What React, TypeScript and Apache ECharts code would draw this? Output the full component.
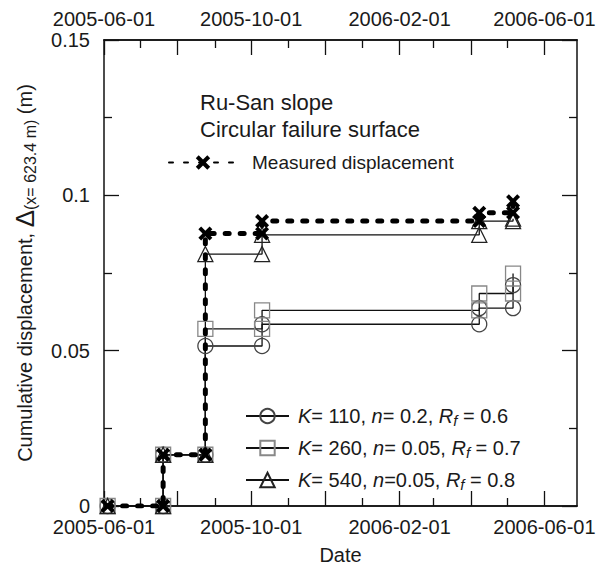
import React, { useEffect, useRef } from 'react';
import * as echarts from 'echarts';

// ---- data ----
const dates = ['2005-06-04', '2005-07-20', '2005-08-24', '2005-10-10', '2006-04-08', '2006-05-06'];
const measured = [0, 0.0165, 0.0877, 0.0917, 0.0944, 0.0981];
const k110 = [0, 0.0165, 0.0515, 0.0585, 0.0637, 0.0711];
const k260 = [0, 0.0165, 0.057, 0.063, 0.0684, 0.0748];
const k540 = [0, 0.0165, 0.0811, 0.0873, 0.0917, 0.0925];
const simNames = ['K= 110, n= 0.2, Rf = 0.6', 'K= 260, n= 0.05, Rf = 0.7', 'K= 540, n=0.05, Rf = 0.8'];
const measuredName = 'Measured displacement';
const xMin = '2005-06-01';
const xMax = '2006-06-28';
const xTickLabels = ['2005-06-01', '2005-10-01', '2006-02-01', '2006-06-01'];
const xMajorTicks = ['2005-06-01', '2005-08-01', '2005-10-01', '2005-12-01', '2006-02-01', '2006-04-01', '2006-06-01'];
const xMinorTicks = ['2005-07-01', '2005-09-01', '2005-11-01', '2006-01-01', '2006-03-01', '2006-05-01'];
const yMin = 0;
const yMax = 0.15;
const yStep = 0.05;
const annotation = ['Ru-San slope', 'Circular failure surface'];

const FONT = '"Liberation Sans", Arial, sans-serif';
const INK = '#1a1a1a';
const ts = (d: string) => Date.parse(d + 'T00:00:00Z');
const fmtDate = (v: number) => new Date(v).toISOString().slice(0, 10);

function steps(vals: number[]) {
  const pts: [number, number][] = [];
  dates.forEach((d, i) => {
    const t = ts(d);
    if (i > 0) pts.push([t, vals[i - 1]]);
    pts.push([t, vals[i]]);
  });
  return pts;
}

const richName = (name: string) =>
  name
    .replace(/^K=/, '{i|K}=')
    .replace(', n=', ', {i|n}=')
    .replace(', Rf', ', {i|R}{s|f}');

const richStyles = {
  i: { fontStyle: 'italic', fontSize: 20, fontFamily: FONT, color: INK },
  s: { fontStyle: 'italic', fontSize: 15, fontFamily: FONT, color: INK, padding: [9, 0, 0, 0] },
  p: { fontSize: 19, fontFamily: FONT, color: INK, padding: [0, 0, 0, 10] },
};

const CROSS = 'path://M0,2L2,0L5,3L8,0L10,2L7,5L10,8L8,10L5,7L2,10L0,8L3,5Z';

function xAxis(pos: 'top' | 'bottom', ticks: string[], len: number, labels: string[] | null, name?: string) {
  return {
    type: 'value',
    position: pos,
    min: ts(xMin),
    max: ts(xMax),
    name,
    nameLocation: 'middle',
    nameGap: 39,
    nameTextStyle: { fontSize: 20, fontFamily: FONT, color: INK },
    axisLine: { show: true, onZero: false, lineStyle: { color: '#111', width: 1.5 } },
    axisTick: { show: true, inside: true, length: len, customValues: ticks.map(ts), lineStyle: { color: '#111', width: 1.3 } },
    axisLabel: labels
      ? { show: true, customValues: labels.map(ts), formatter: fmtDate, fontSize: 20, fontFamily: FONT, color: INK, margin: 11 }
      : { show: false },
    splitLine: { show: false },
  };
}

function yAxis(pos: 'left' | 'right', labels: boolean) {
  return {
    type: 'value',
    position: pos,
    min: yMin,
    max: yMax,
    interval: yStep,
    name: labels ? 'Cumulative displacement, {d|Δ}{s|(x= 623.4 m)} (m)' : undefined,
    nameLocation: 'middle',
    nameRotate: 90,
    nameGap: 66,
    nameTextStyle: {
      fontSize: 20,
      fontFamily: FONT,
      color: INK,
      rich: {
        d: { fontSize: 26, fontFamily: FONT, color: INK },
        s: { fontSize: 16, fontFamily: FONT, color: INK, padding: [10, 0, 0, 0] },
      },
    },
    axisLine: { show: true, onZero: false, lineStyle: { color: '#111', width: 1.5 } },
    axisTick: { show: true, inside: true, length: 15, lineStyle: { color: '#111', width: 1.3 } },
    minorTick: { show: true, splitNumber: 2, length: 8, lineStyle: { color: '#111', width: 1.3 } },
    axisLabel: labels ? { show: true, fontSize: 20, fontFamily: FONT, color: INK, margin: 14 } : { show: false },
    splitLine: { show: false },
    minorSplitLine: { show: false },
  };
}

function simSeries(name: string, vals: number[], symbol: string, border: string) {
  return {
    name,
    type: 'line',
    xAxisIndex: 0,
    yAxisIndex: 0,
    data: steps(vals),
    symbol,
    symbolSize: 15,
    itemStyle: { color: 'transparent', borderColor: border, borderWidth: 1.3 },
    lineStyle: { color: '#111', width: 1.3 },
    z: 2,
  };
}

export default function App() {
  const ref = useRef<HTMLDivElement>(null);
  useEffect(() => {
    const chart = echarts.init(ref.current!, null, { renderer: 'svg' });
    chart.setOption({
      animation: false,
      backgroundColor: '#fff',
      grid: { left: 104, right: 37, top: 40, bottom: 58, containLabel: false },
      xAxis: [
        xAxis('bottom', xMajorTicks, 15, xTickLabels, 'Date'),
        xAxis('bottom', xMinorTicks, 8, null),
        xAxis('top', xMajorTicks, 15, xTickLabels),
        xAxis('top', xMinorTicks, 8, null),
      ],
      yAxis: [yAxis('left', true), yAxis('right', false)],
      legend: [
        {
          data: [measuredName],
          left: 163,
          top: 148,
          itemWidth: 68,
          itemHeight: 18,
          formatter: (n: string) => `{p|${n}}`,
          textStyle: { fontSize: 19, fontFamily: FONT, color: INK, rich: richStyles },
        },
        {
          data: simNames,
          orient: 'vertical',
          left: 240,
          top: 399,
          itemWidth: 43,
          itemHeight: 18,
          itemGap: 8,
          formatter: (n: string) => `{p|}${richName(n)}`,
          textStyle: { fontSize: 20, fontFamily: FONT, color: INK, lineHeight: 24, rich: { ...richStyles, p: { padding: [0, 0, 0, 4] } } },
        },
      ],
      graphic: annotation.map((t, i) => ({
        type: 'text',
        left: 200,
        top: 91 + i * 27,
        style: { text: t, font: `22px ${FONT}`, fill: INK },
      })),
      series: [
        simSeries(simNames[0], k110, 'circle', '#444'),
        simSeries(simNames[1], k260, 'rect', '#888'),
        simSeries(simNames[2], k540, 'triangle', '#222'),
        {
          name: measuredName,
          type: 'line',
          data: steps(measured),
          symbol: CROSS,
          symbolSize: 14,
          symbolKeepAspect: true,
          itemStyle: { color: '#000' },
          lineStyle: { color: '#000', width: 5, type: [4, 11], cap: 'round' },
          z: 5,
        },
      ],
    });
    return () => chart.dispose();
  }, []);
  return <div ref={ref} style={{ position: 'absolute', left: 0, top: 0, width: 614, height: 570 }} />;
}
